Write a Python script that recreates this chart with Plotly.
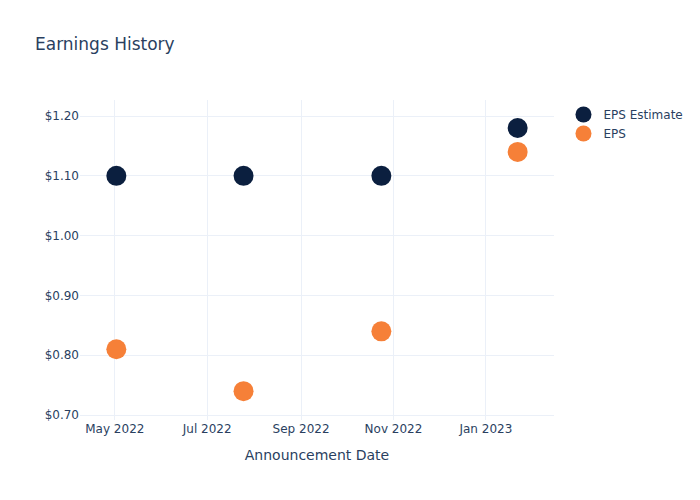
import plotly.graph_objects as go

dates = ["2022-05-02", "2022-07-25", "2022-10-24", "2023-01-22"]
eps_estimate = [1.10, 1.10, 1.10, 1.18]
eps_actual = [0.81, 0.74, 0.84, 1.14]

fig = go.Figure()
fig.add_trace(go.Scatter(x=dates, y=eps_estimate, mode="markers", name="EPS Estimate",
                         marker=dict(color="#0b1f3f", size=20)))
fig.add_trace(go.Scatter(x=dates, y=eps_actual, mode="markers", name="EPS",
                         marker=dict(color="#f68038", size=20)))

fig.update_layout(
    template="plotly_white",
    width=700, height=500,
    font=dict(family="DejaVu Sans"),
    title=dict(text="Earnings History"),
    xaxis=dict(title=dict(text="Announcement Date"), range=["2022-04-08", "2023-02-15"],
               dtick="M2", tickformat="%b %Y"),
    yaxis=dict(tickprefix="$", tickformat=".2f", range=[0.6918, 1.2268], dtick=0.1),
)
fig.write_html("out.html")
